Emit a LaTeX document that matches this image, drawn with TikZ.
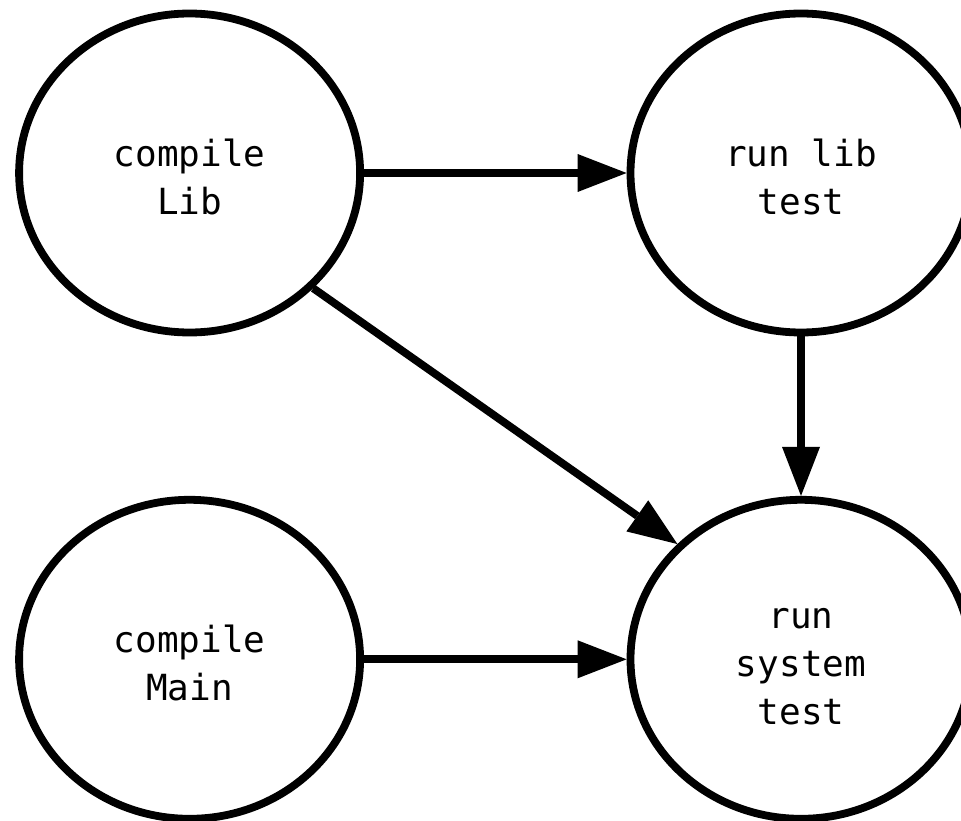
\documentclass[tikz,border=0pt]{standalone}
\usepackage{fontspec}
\setmonofont{DejaVu Sans Mono}
\usetikzlibrary{arrows.meta,shapes.geometric}
\newcommand{\liftfix}{\rule{0pt}{35pt}}
\begin{document}
\begin{tikzpicture}[x=1pt,y=-1pt,
  task/.style={ellipse,draw,line width=7.8pt,minimum width=341pt,minimum height=319pt,
    inner sep=0pt,align=center,font=\ttfamily\fontsize{36}{48}\selectfont},
  flow/.style={line width=7.8pt,-{Triangle[length=49pt,width=38pt,line width=0pt]}}]
\useasboundingbox (0,0) rectangle (961,821);
\clip (0,0) rectangle (961,821);
\node[task] (A) at (189.6,173) {\liftfix compile\\Lib};
\node[task] (B) at (801,173) {\liftfix run lib\\test};
\node[task] (C) at (189.6,659.3) {\liftfix compile\\Main};
\node[task] (D) at (801,659.3) {\liftfix run\\system\\test};
\draw[flow] (A) -- (B);
\draw[flow] (B) -- (D);
\draw[flow] (A.-43.2) -- (D.137.7);
\draw[flow] (C) -- (D);
\end{tikzpicture}
\end{document}
